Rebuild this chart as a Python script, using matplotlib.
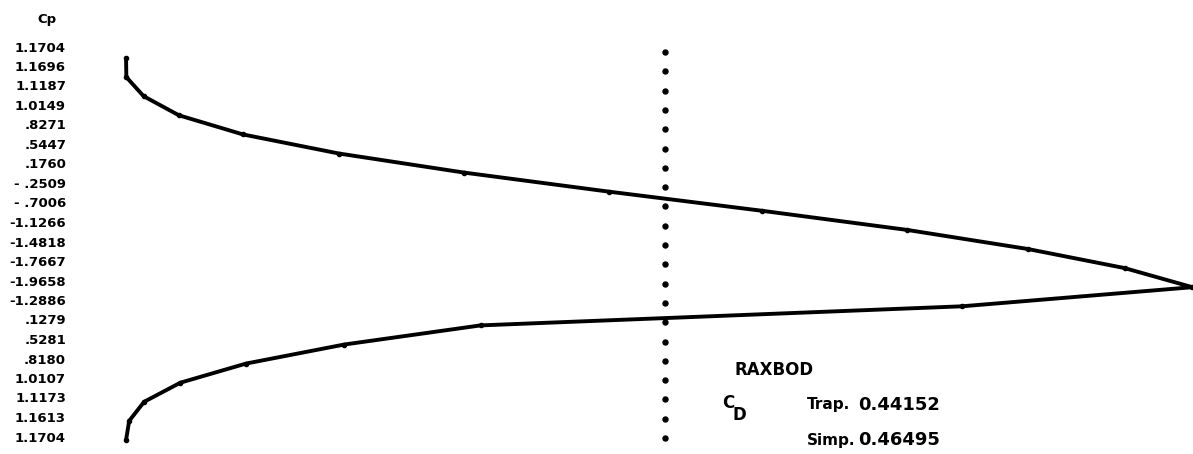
import numpy as np
import matplotlib
matplotlib.use("Agg")
import matplotlib.pyplot as plt

# pressure coefficients, one per station (upper surface then lower surface)
cp = [1.1704, 1.1696, 1.1187, 1.0149, 0.8271, 0.5447, 0.1760, -0.2509,
      -0.7006, -1.1266, -1.4818, -1.7667, -1.9658, -1.2886, 0.1279, 0.5281,
      0.8180, 1.0107, 1.1173, 1.1613, 1.1704]
cp_labels = ["1.1704", "1.1696", "1.1187", "1.0149", ".8271", ".5447", ".1760",
             "- .2509", "- .7006", "-1.1266", "-1.4818", "-1.7667", "-1.9658",
             "-1.2886", ".1279", ".5281", ".8180", "1.0107", "1.1173", "1.1613",
             "1.1704"]
col_cp = -0.415          # the dotted reference column
cd_trap = "0.44152"
cd_simp = "0.46495"
title = "RAXBOD"

W, H = 1193, 454
fig = plt.figure(figsize=(W / 100, H / 100), dpi=100)
ax = fig.add_axes([0, 0, 1, 1])
ax.set_axis_off()

n = len(cp)
rows = np.arange(n)
# row i sits at pixel 58 + 19.1*i from the top
ax.set_ylim((H - 58) / 19.1, -58 / 19.1)
# cp axis runs right-to-left: pixel x = 524 - 340*cp
ax.set_xlim(524 / 340, (524 - W) / 340)

ax.plot(cp, rows, color="black", lw=2.8, solid_capstyle="round",
        solid_joinstyle="round")
ax.plot(cp, rows, "o", color="black", ms=3)

# dotted column of small marks
glyph_rows = (52 + 19.3 * rows - 58) / 19.1
ax.plot([col_cp] * n, glyph_rows, "o", color="black", ms=3.6)

font = dict(family="DejaVu Sans", weight="bold", color="black")


def px(x, y):
    return x / W, 1 - y / H


# row labels on the left
for i, lab in enumerate(cp_labels):
    fig.text(*px(66, 48 + 19.5 * i), lab, ha="right", va="center",
             fontsize=9.5, **font)
fig.text(*px(47, 20), "Cp", ha="center", va="center", fontsize=9.5, **font)

fig.text(*px(734, 370), title, ha="left", va="center", fontsize=12, **font)
fig.text(*px(722, 403), "C", ha="left", va="center", fontsize=12, **font)
fig.text(*px(733, 415), "D", ha="left", va="center", fontsize=12, **font)
fig.text(*px(807, 405), "Trap.", ha="left", va="center", fontsize=11, **font)
fig.text(*px(858, 405), cd_trap, ha="left", va="center", fontsize=13, **font)
fig.text(*px(807, 440), "Simp.", ha="left", va="center", fontsize=11, **font)
fig.text(*px(858, 440), cd_simp, ha="left", va="center", fontsize=13, **font)

fig.savefig("out.png", dpi=100, facecolor="white")
